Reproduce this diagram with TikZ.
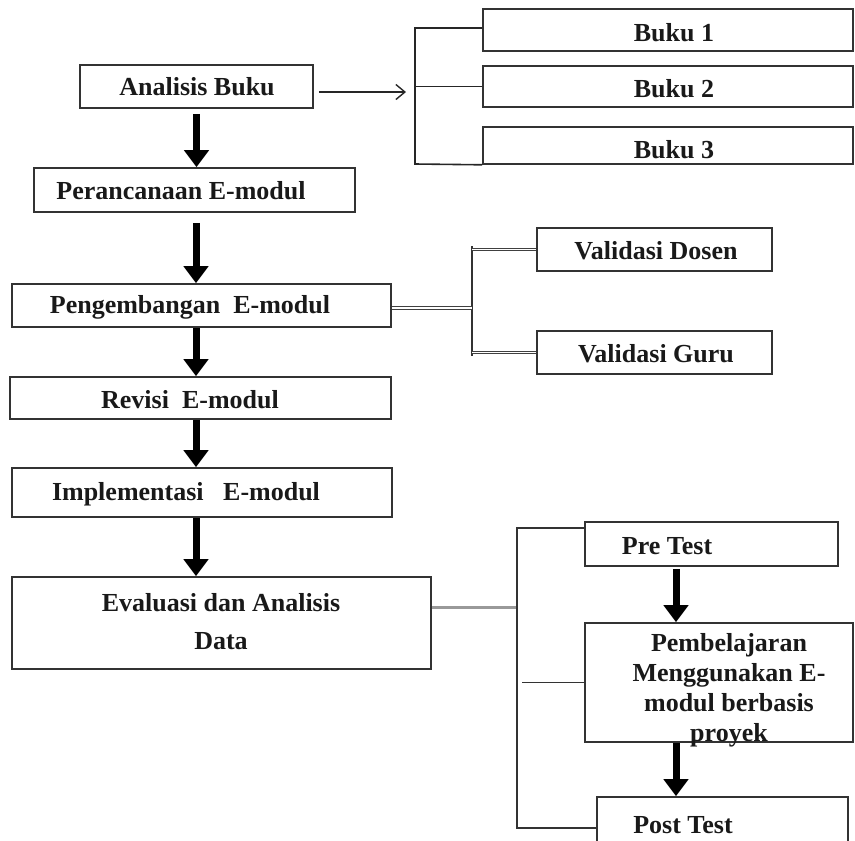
\documentclass[tikz,border=0pt]{standalone}
\usepackage{fontspec}
\setmainfont{Liberation Serif}
\usetikzlibrary{arrows.meta,calc}
\begin{document}
\begin{tikzpicture}[x=1pt,y=-1pt,
 box/.style={draw=black!80, line width=1.6pt, rectangle, inner sep=0pt},
 txt/.style={font=\fontsize{26}{30}\selectfont\bfseries, inner sep=0pt, align=center, text=black!90},
 bigarrow/.style={line width=7pt, -{Triangle[width=24pt,length=17pt]}},
 brk/.style={line width=1.6pt, draw=black!85},
 thin/.style={line width=1.2pt, draw=black!80},
 dbl/.style={draw=black!75, double=white, double distance=1.6pt, line width=0.8pt},
 grayln/.style={line width=3pt, draw=black!40}]
\useasboundingbox (0,0) rectangle (855,841);
\clip (0,0) rectangle (855,841);
% left column boxes
\node[box, minimum width=233pt, minimum height=43pt] (ana) at (196.5,86.5) {};
\node[txt] (anat) at (197,87) {Analisis Buku};
\node[box, minimum width=321pt, minimum height=44pt] (per) at (194.5,190) {};
\node[txt] (pert) at (181,191) {Perancanaan E-modul};
\node[box, minimum width=379pt, minimum height=43pt] (peng) at (201.5,305.5) {};
\node[txt] (pengt) at (190,307) {Pengembangan\ \ E-modul};
\node[box, minimum width=381pt, minimum height=42pt] (rev) at (200.5,398) {};
\node[txt] (revt) at (190,400) {Revisi\ \ E-modul};
\node[box, minimum width=380pt, minimum height=49pt] (imp) at (202,492.5) {};
\node[txt] (impt) at (186,494) {Implementasi\ \ \ E-modul};
\node[box, minimum width=419pt, minimum height=92pt] (eva) at (221.5,623) {};
\node[txt, font=\fontsize{26}{38}\selectfont\bfseries] (evat) at (221,622) {Evaluasi dan Analisis\\Data};
% books
\node[box, minimum width=370pt, minimum height=42pt] (b1) at (668,30) {};
\node[txt] (b1t) at (674,33) {Buku 1};
\node[box, minimum width=370pt, minimum height=41pt] (b2) at (668,86.5) {};
\node[txt] (b2t) at (674,89) {Buku 2};
\node[box, minimum width=370pt, minimum height=37pt] (b3) at (668,145.5) {};
\node[txt] (b3t) at (674,150) {Buku 3};
% validation
\node[box, minimum width=235pt, minimum height=43pt] (vd) at (654.5,249.5) {};
\node[txt] (vdt) at (656,251) {Validasi Dosen};
\node[box, minimum width=235pt, minimum height=43pt] (vg) at (654.5,352.5) {};
\node[txt] (vgt) at (656,354) {Validasi Guru};
% tests
\node[box, minimum width=253pt, minimum height=44pt] (pre) at (711.5,544) {};
\node[txt] (pret) at (667,546) {Pre Test};
\node[box, minimum width=268pt, minimum height=119pt] (pem) at (719,682.5) {};
\node[txt] (pemt) at (729,690) {Pembelajaran\\Menggunakan E-\\modul berbasis\\proyek};
\node[box, minimum width=251pt, minimum height=63pt] (post) at (722.5,828.5) {};
\node[txt] (postt) at (683,825) {Post Test};
% main flow arrows
\draw[bigarrow] ([yshift=-5pt]ana.south) -- (ana.south |- per.north);
\draw[bigarrow] ([xshift=1.5pt,yshift=-10pt]per.south) -- ([xshift=1.5pt]per.south |- peng.north);
\draw[bigarrow] ([xshift=-5.5pt]peng.south) -- ([xshift=-5.5pt]peng.south |- rev.north);
\draw[bigarrow] ([xshift=-4.5pt]rev.south) -- ([xshift=-4.5pt]rev.south |- imp.north);
\draw[bigarrow] ([xshift=-6pt]imp.south) -- ([xshift=-6pt]imp.south |- eva.north);
\draw[bigarrow] ([xshift=-35.5pt,yshift=-2pt]pre.south) -- ([xshift=-35.5pt]pre.south |- pem.north);
\draw[bigarrow] ([xshift=-43pt]pem.south) -- ([xshift=-43pt]pem.south |- post.north);
% books bracket
\coordinate (bt) at (415,28);
\coordinate (bb) at (415,164);
\coordinate (ak) at (406,92);
\draw[brk] (bt -| b1.west) -- (bt) -- (bb) -- (b3.south west);
\draw[brk] (bt |- b2.west) -- (b2.west);
\draw[line width=1.4pt, black!85, -{Straight Barb[length=9pt,width=15pt,line width=1.4pt]}] ([xshift=5pt,yshift=-5.5pt]ana.east) -- (ak);
% validation bracket
\coordinate (vt) at (472,246);
\coordinate (vb) at (472,356);
\draw[thin] (vt) -- (vb);
\draw[dbl] (peng.east |- 0,308) -- (vt |- 0,308);
\draw[dbl] (vt |- vd.west) -- (vd.west);
\draw[dbl] (vt |- vg.west) -- (vg.west);
% evaluation bracket
\coordinate (et) at (517,528);
\coordinate (eb) at (517,828);
\draw[grayln] ([yshift=16pt]eva.east) -- (et |- 0,607);
\draw[thin] (et -| pre.west) -- (et) -- (eb) -- (eb -| post.west);
\draw[thin] ([xshift=5pt]et |- pem.west) -- (pem.west);
\end{tikzpicture}
\end{document}
